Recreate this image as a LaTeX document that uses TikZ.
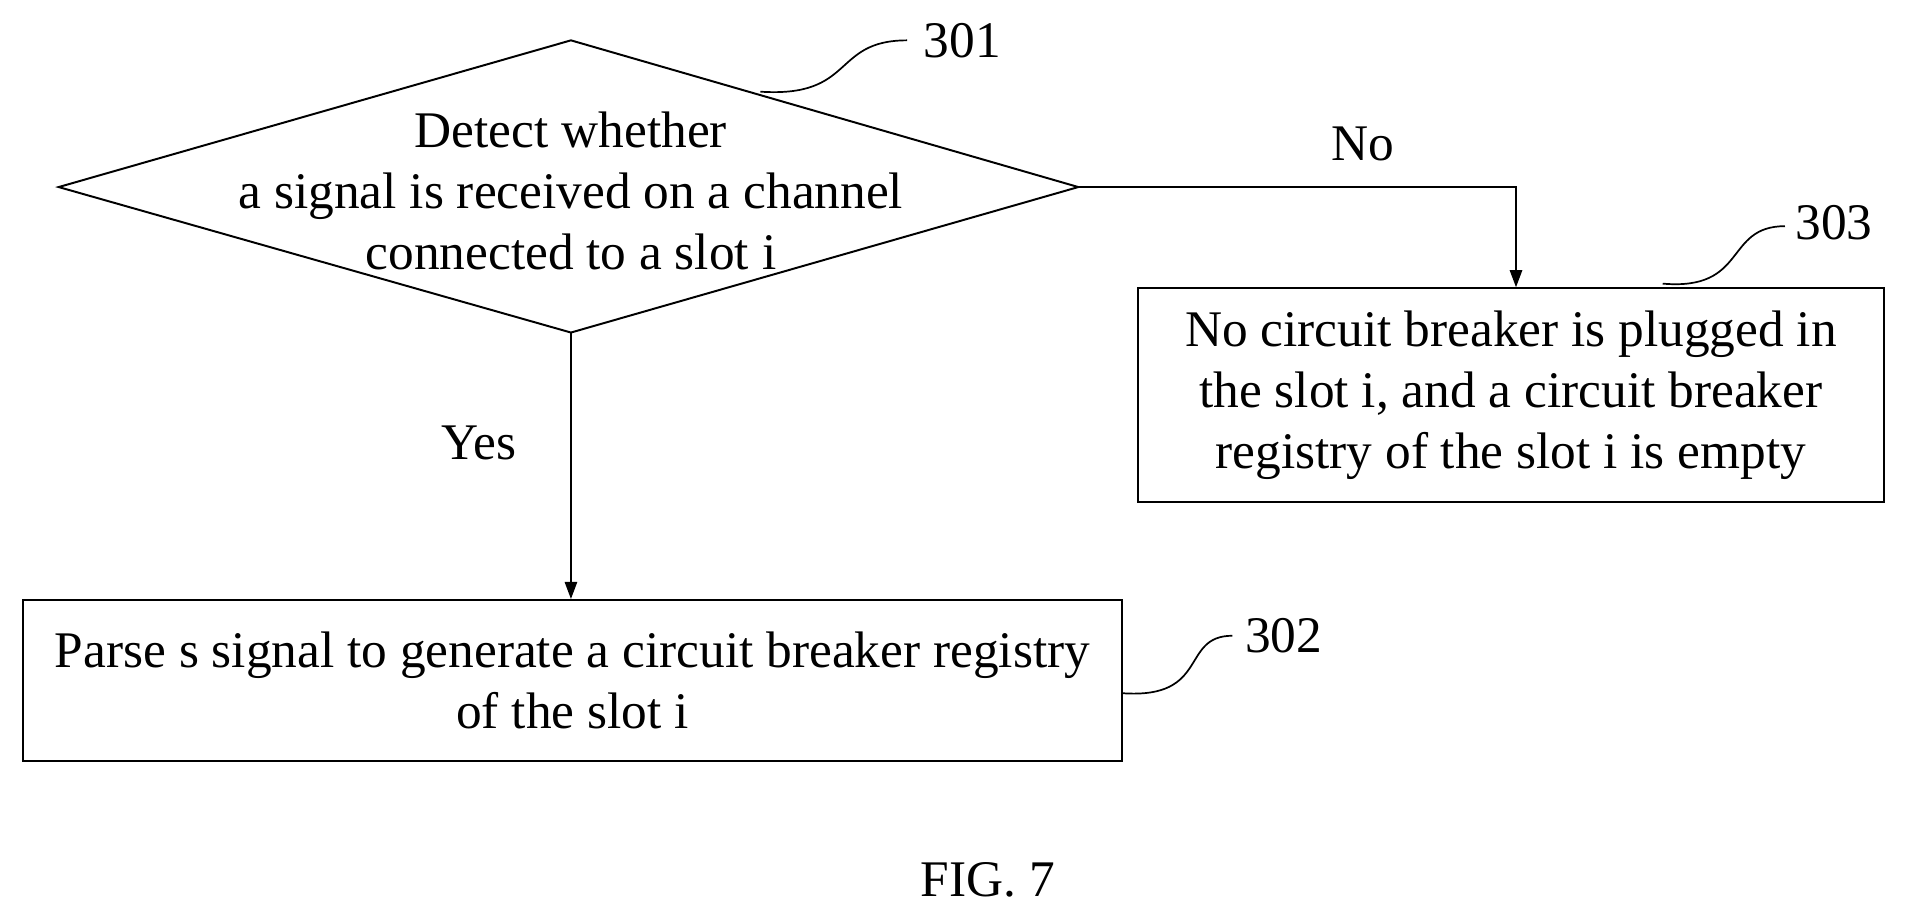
\documentclass[tikz,border=0pt]{standalone}
\usepackage{fontspec}
\setmainfont{Liberation Serif}
\usetikzlibrary{shapes.geometric,arrows.meta}
\begin{document}
\begin{tikzpicture}[x=1pt,y=-1pt,
  txt/.style={font=\fontsize{42}{50}\selectfont,align=center,inner sep=0},
  box/.style={draw,line width=1.6pt},
  arr/.style={line width=1.6pt,-{Triangle[length=14pt,width=10pt]}},
  lead/.style={line width=1.4pt}]
\useasboundingbox (0,0) rectangle (1568,752);
\coordinate (dl) at (48,153); \coordinate (dt) at (467,33);
\coordinate (dr) at (882,153); \coordinate (db) at (467,272);
\draw[line width=1.6pt] (dl) -- (dt) -- (dr) -- (db) -- cycle;
\node[txt] (dtext) at (467,156) {Detect whether\\a signal is received on a channel\\connected to a slot i};
\node[box,minimum width=610,minimum height=175,anchor=north west] (b303) at (930,235) {};
\node[txt] at (b303.center) {No circuit breaker is plugged in\\the slot i, and a circuit breaker\\registry of the slot i is empty};
\node[box,minimum width=899,minimum height=132,anchor=north west] (b302) at (18,490) {};
\node[txt] at (b302.center) {Parse s signal to generate a circuit breaker registry\\of the slot i};
\coordinate (nc) at (1240,235);
\draw[arr] (dr) -| (nc);
\draw[arr] (db) -- (467,490);
\node[txt] at (1115,118) {No};
\node[txt] at (392,362) {Yes};
\node[txt] (l301) at (787,33) {301};
\node[txt] (l303) at (1500,182) {303};
\node[txt] (l302) at (1050,520) {302};
\draw[lead] (622,75) .. controls (700,80) and (680,33) .. (742,33);
\draw[lead] (1360,232) .. controls (1430,238) and (1410,185) .. (1460,185);
\draw[lead] (918,567) .. controls (990,572) and (965,520) .. (1008,520);
\node[txt] (fig) at (808,720) {FIG. 7};
\end{tikzpicture}
\end{document}
